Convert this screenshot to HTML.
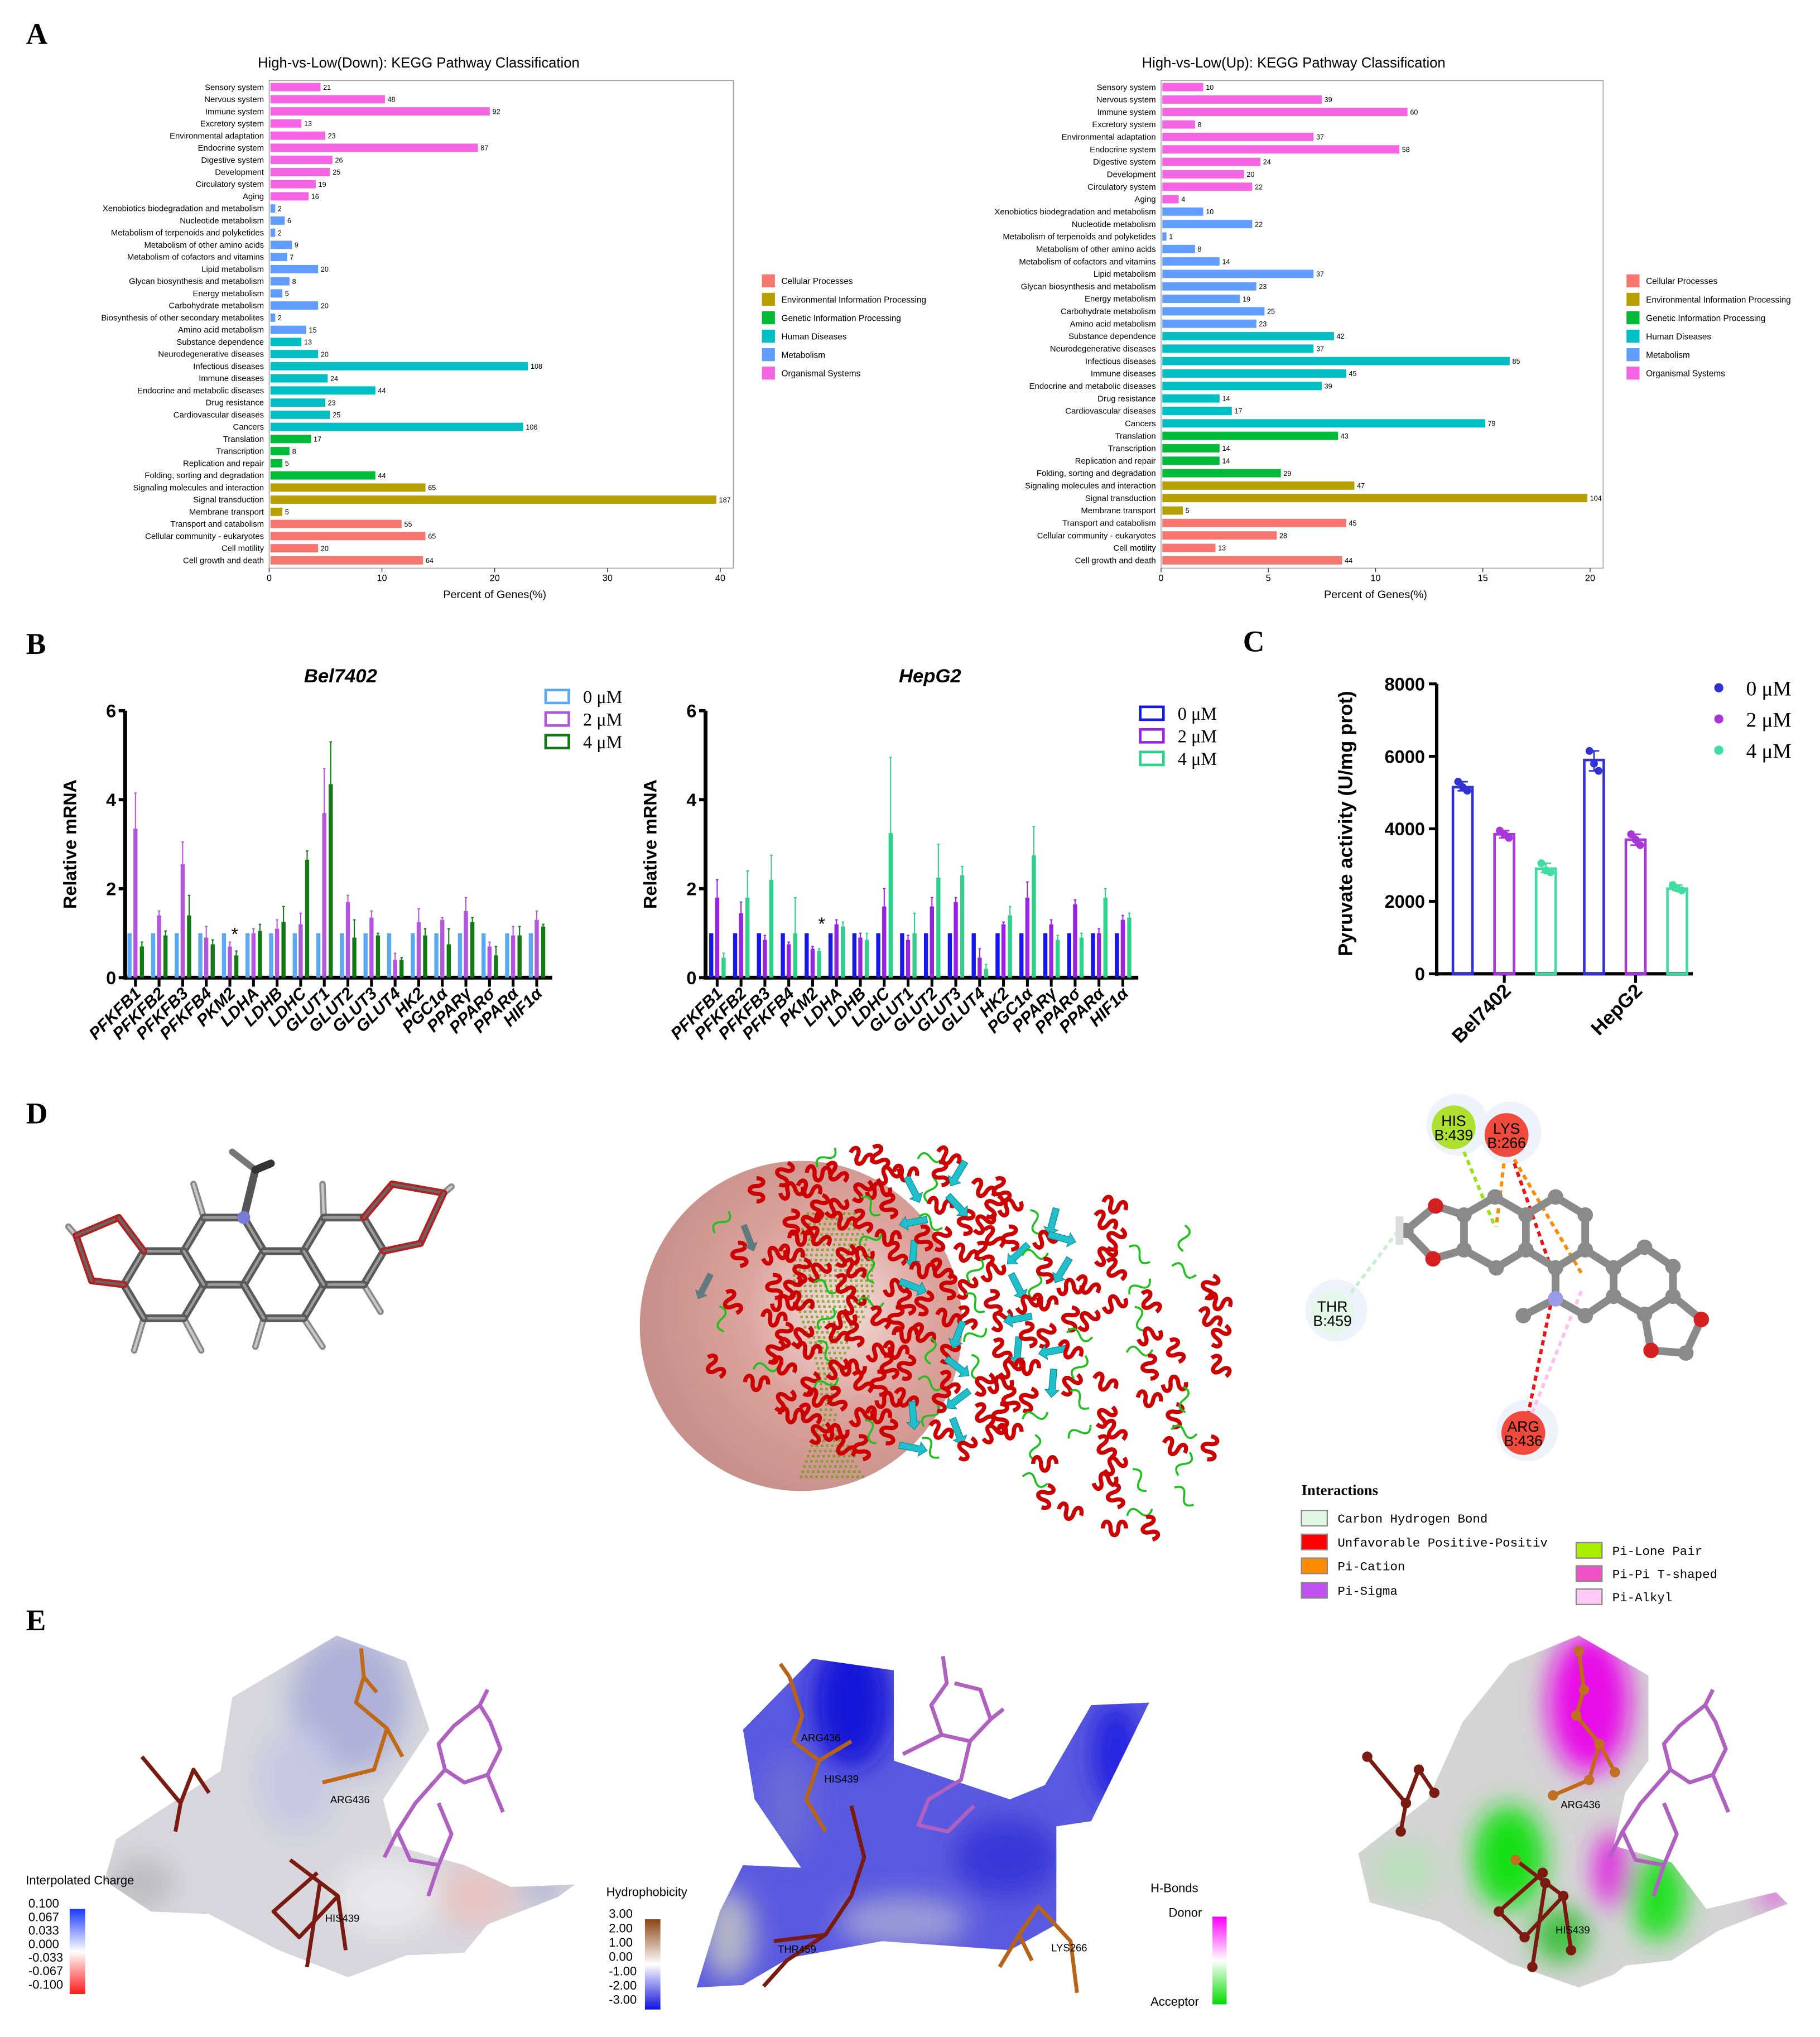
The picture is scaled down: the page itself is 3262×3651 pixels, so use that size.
<!DOCTYPE html>
<html><head><meta charset="utf-8"><style>
html,body{margin:0;padding:0;background:#fff}
svg{display:block}
text{font-family:"Liberation Sans",Arial,sans-serif}
.serif{font-family:"Liberation Serif",serif}
.mono{font-family:"Liberation Mono",monospace}
</style></head><body>
<svg id="fig" xmlns="http://www.w3.org/2000/svg" width="3262" height="3651" viewBox="0 0 1411 1579.3">
<rect width="1411" height="1580" fill="#fff"/>
<g transform="scale(1.008)">
<g class="serif" font-weight="bold" font-size="23">
<text x="20" y="34" class="serif">A</text>
<text x="20" y="503" class="serif">B</text>
<text x="956" y="501" class="serif">C</text>
<text x="20" y="864" class="serif">D</text>
<text x="20" y="1254" class="serif">E</text>
</g>
<g id="A"></g><g id="C"></g>
</g>
<g id="B"></g><g id="D"></g><g id="E"></g>
</svg>
<script>
// ---------- Panel A data ----------
const leftCats=["Sensory system","Nervous system","Immune system","Excretory system","Environmental adaptation","Endocrine system","Digestive system","Development","Circulatory system","Aging","Xenobiotics biodegradation and metabolism","Nucleotide metabolism","Metabolism of terpenoids and polyketides","Metabolism of other amino acids","Metabolism of cofactors and vitamins","Lipid metabolism","Glycan biosynthesis and metabolism","Energy metabolism","Carbohydrate metabolism","Biosynthesis of other secondary metabolites","Amino acid metabolism","Substance dependence","Neurodegenerative diseases","Infectious diseases","Immune diseases","Endocrine and metabolic diseases","Drug resistance","Cardiovascular diseases","Cancers","Translation","Transcription","Replication and repair","Folding, sorting and degradation","Signaling molecules and interaction","Signal transduction","Membrane transport","Transport and catabolism","Cellular community - eukaryotes","Cell motility","Cell growth and death"];
const leftCounts=[21,48,92,13,23,87,26,25,19,16,2,6,2,9,7,20,8,5,20,2,15,13,20,108,24,44,23,25,106,17,8,5,44,65,187,5,55,65,20,64];
const leftGroups="OOOOOOOOOOMMMMMMMMMMMHHHHHHHHGGGGEEECCCC";
const leftTotal=473;
const rightCats=["Sensory system","Nervous system","Immune system","Excretory system","Environmental adaptation","Endocrine system","Digestive system","Development","Circulatory system","Aging","Xenobiotics biodegradation and metabolism","Nucleotide metabolism","Metabolism of terpenoids and polyketides","Metabolism of other amino acids","Metabolism of cofactors and vitamins","Lipid metabolism","Glycan biosynthesis and metabolism","Energy metabolism","Carbohydrate metabolism","Amino acid metabolism","Substance dependence","Neurodegenerative diseases","Infectious diseases","Immune diseases","Endocrine and metabolic diseases","Drug resistance","Cardiovascular diseases","Cancers","Translation","Transcription","Replication and repair","Folding, sorting and degradation","Signaling molecules and interaction","Signal transduction","Membrane transport","Transport and catabolism","Cellular community - eukaryotes","Cell motility","Cell growth and death"];
const rightCounts=[10,39,60,8,37,58,24,20,22,4,10,22,1,8,14,37,23,19,25,23,42,37,85,45,39,14,17,79,43,14,14,29,47,104,5,45,28,13,44];
const rightGroups="OOOOOOOOOOMMMMMMMMMMHHHHHHHHGGGGEEECCCC";
const rightTotal=525;
const leftTicks=[0,10,20,30,40];
const rightTicks=[0,5,10,15,20];
const legendNames=["Cellular Processes","Environmental Information Processing","Genetic Information Processing","Human Diseases","Metabolism","Organismal Systems"];
const legendKeys=["C","E","G","H","M","O"];
const groupColor={C:"#f8766d",E:"#b79f00",G:"#00ba38",H:"#00bfc4",M:"#619cff",O:"#f564e3"};

// ---------- Panel B data ----------
const genes=["PFKFB1","PFKFB2","PFKFB3","PFKFB4","PKM2","LDHA","LDHB","LDHC","GLUT1","GLUT2","GLUT3","GLUT4","HK2","PGC1α","PPARγ","PPARσ","PPARα","HIF1α"];
const bel0=[1,1,1,1,1,1,1,1,1,1,1,1,1,1,1,1,1,1];
const bel2=[3.35,1.4,2.55,0.9,0.7,1.0,1.1,1.2,3.7,1.7,1.35,0.4,1.25,1.3,1.5,0.7,0.95,1.3];
const bel4=[0.7,0.95,1.4,0.75,0.5,1.05,1.25,2.65,4.35,0.9,0.95,0.4,0.95,0.75,1.25,0.5,0.95,1.15];
const bel2Err=[0.8,0.1,0.5,0.25,0.1,0.1,0.2,0.25,1.0,0.15,0.15,0.15,0.3,0.05,0.3,0.1,0.2,0.2];
const bel4Err=[0.1,0.1,0.45,0.1,0.1,0.15,0.35,0.2,0.95,0.4,0.05,0.05,0.15,0.35,0.1,0.2,0.2,0.05];
const hep0=[1,1,1,1,1,1,1,1,1,1,1,1,1,1,1,1,1,1];
const hep2=[1.8,1.45,0.85,0.75,0.65,1.2,0.9,1.6,0.85,1.6,1.7,0.45,1.2,1.8,1.2,1.65,1.0,1.3];
const hep4=[0.45,1.8,2.2,1.0,0.6,1.15,0.85,3.25,1.0,2.25,2.3,0.2,1.4,2.75,0.85,0.9,1.8,1.35];
const hep2Err=[0.4,0.25,0.1,0.05,0.05,0.1,0.1,0.4,0.1,0.2,0.1,0.2,0.05,0.35,0.1,0.1,0.1,0.1];
const hep4Err=[0.1,0.6,0.55,0.8,0.05,0.1,0.15,1.7,0.45,0.75,0.2,0.1,0.2,0.65,0.1,0.1,0.2,0.1];
const mrnaTicks=[0,2,4,6];

// ---------- Panel C data ----------
const cells=["Bel7402","HepG2"];
const pyr0=[5150,5900];
const pyr2=[3850,3700];
const pyr4=[2900,2350];
const pyr0Pts=[[5300,5150,5050],[6150,5800,5600]];
const pyr2Pts=[[3950,3850,3750],[3850,3700,3550]];
const pyr4Pts=[[3050,2850,2800],[2450,2350,2300]];
const pyrTicks=[0,2000,4000,6000,8000];

const NS="http://www.w3.org/2000/svg";
function mk(parent,tag,attrs,txt){const e=document.createElementNS(NS,tag);for(const k in attrs)e.setAttribute(k,attrs[k]);if(txt!==undefined)e.textContent=txt;parent.appendChild(e);return e;}

// ---------- Panel A ----------
function kegg(g,cats,counts,groups,total,ticks,x0,x1,xmax,title,titleX,legendX,prefix){
  const yTop=62,yBot=437,r0=67,r1=431;
  const step=(r1-r0)/(cats.length-1);
  const sx=v=>x0+v*(x1-x0)/xmax;
  const t=mk(g,"text",{x:titleX,y:52,"font-size":11,"text-anchor":"middle"},title);
  
  
  const frame=mk(g,"rect",{x:x0,y:yTop,width:(x1-x0)+10,height:yBot-yTop,fill:"none",stroke:"#999","stroke-width":0.6});
  
  
  cats.forEach((c,i)=>{
    const y=r0+i*step;
    const pct=counts[i]*100/total;
    const lb=mk(g,"text",{x:x0-4,y:y+2.2,"font-size":6.4,"text-anchor":"end"},c);
    
    
    const b=mk(g,"rect",{x:x0+1,y:y-3.2,width:Math.max(0.5,sx(pct)-x0),height:6.4,fill:groupColor[groups[i]]});
    
    
    const vl=mk(g,"text",{x:sx(pct)+3,y:y+2,"font-size":5.4},counts[i]);
    
    
  });
  ticks.forEach(v=>{
    mk(g,"line",{x1:sx(v),x2:sx(v),y1:yBot,y2:yBot+3,stroke:"#333","stroke-width":0.6});
    const tl=mk(g,"text",{x:sx(v),y:yBot+10,"font-size":7,"text-anchor":"middle"},v);
    
    
  });
  const xl=mk(g,"text",{x:(x0+x1)/2,y:460,"font-size":8.5,"text-anchor":"middle"},"Percent of Genes(%)");
  
  
  legendNames.forEach((n,i)=>{
    const y=216+i*14.2;
    const sw=mk(g,"rect",{x:legendX,y:y-5,width:10,height:10,fill:groupColor[legendKeys[i]]});
    
    
    const lt=mk(g,"text",{x:legendX+15,y:y+2.5,"font-size":6.6},n);
    
    
  });
}
const gA=document.getElementById("A");
kegg(gA,leftCats,leftCounts,leftGroups,leftTotal,leftTicks,207,554,40,"High-vs-Low(Down): KEGG Pathway Classification",322,586,"kegg-down");
kegg(gA,rightCats,rightCounts,rightGroups,rightTotal,rightTicks,893,1223,20,"High-vs-Low(Up): KEGG Pathway Classification",995,1251,"kegg-up");

// ---------- Panel B ----------
function mrna(g,prefix,title,titleX,axX,g0,gStep,cols,series,errs,legX,legY){
  const y0=758,sc=34.5,sy=v=>y0-v*sc;
  const xEnd=g0+gStep*17+12;
  const tt=mk(g,"text",{x:titleX,y:529,"font-size":15,"font-weight":"bold","font-style":"italic","text-anchor":"middle"},title);
  
  
  mk(g,"line",{x1:axX,x2:axX,y1:sy(6),y2:y0+1.5,stroke:"#000","stroke-width":3});
  mk(g,"line",{x1:axX,x2:xEnd,y1:y0,y2:y0,stroke:"#000","stroke-width":3});
  mrnaTicks.forEach(v=>{
    mk(g,"line",{x1:axX-5,x2:axX,y1:sy(v),y2:sy(v),stroke:"#000","stroke-width":2.5});
    const tl=mk(g,"text",{x:axX-7,y:sy(v)+5,"font-size":14,"font-weight":"bold","text-anchor":"end"},v);
    
    
  });
  const yl=mk(g,"text",{x:0,y:0,"font-size":14,"font-weight":"bold","text-anchor":"middle",transform:`translate(${axX-38},${sy(3)}) rotate(-90)`},"Relative mRNA");
  
  
  const offs=[-4.6,0,5];
  genes.forEach((gn,i)=>{
    const cx=g0+i*gStep;
    mk(g,"line",{x1:cx,x2:cx,y1:y0,y2:y0+7,stroke:"#000","stroke-width":2.2});
    const lb=mk(g,"text",{x:0,y:0,"font-size":13,"font-weight":"bold","font-style":"italic","text-anchor":"end",transform:`translate(${cx+5},${y0+13}) rotate(-45)`},gn);
    
    
    series.forEach((s,k)=>{
      const bx=cx+offs[k];
      const b=mk(g,"rect",{x:bx-1.6,y:sy(s[i]),width:3.2,height:y0-sy(s[i]),fill:cols[k]});
      
      
      if(errs[k]){
        const top=sy(s[i]+errs[k][i]);
        mk(g,"line",{x1:bx,x2:bx,y1:sy(s[i]),y2:top,stroke:cols[k],"stroke-width":0.9});
        mk(g,"line",{x1:bx-1,x2:bx+1,y1:top,y2:top,stroke:cols[k],"stroke-width":0.9});
      }
    });
  });
  ["0 μM","2 μM","4 μM"].forEach((n,k)=>{
    const y=legY+k*17.5;
    const sw=mk(g,"rect",{x:legX,y:y-5,width:18,height:10,fill:"none",stroke:cols[k],"stroke-width":2});
    
    
    const lt=mk(g,"text",{x:legX+29,y:y+5,"font-size":14,class:"serif"},n);
    
    
  });
}
const gB=document.getElementById("B");
mrna(gB,"bel7402","Bel7402",264,97,105,18.3,["#5aa9f5","#b455e0","#127a12"],[bel0,bel2,bel4],[null,bel2Err,bel4Err],423,540);
mrna(gB,"hepg2","HepG2",721,547,556,18.5,["#1616ee","#9a22e6","#2fd089"],[hep0,hep2,hep4],[null,hep2Err,hep4Err],884,553);
const ast1=mk(gB,"text",{x:182,y:729,"font-size":14,"text-anchor":"middle"},"*");


const ast2=mk(gB,"text",{x:637,y:721,"font-size":14,"text-anchor":"middle"},"*");



// ---------- Panel C ----------
(function(){
  const g=document.getElementById("C");
  const axX=1105,y0=749,sy=v=>y0-v*(223/8000);
  const cols=["#3131d6","#a936d8","#3fdda2"];
  mk(g,"line",{x1:axX,x2:axX,y1:sy(8000),y2:y0+1.5,stroke:"#000","stroke-width":2.6});
  mk(g,"line",{x1:axX,x2:1302,y1:y0,y2:y0,stroke:"#000","stroke-width":2.6});
  pyrTicks.forEach(v=>{
    mk(g,"line",{x1:axX-6,x2:axX,y1:sy(v),y2:sy(v),stroke:"#000","stroke-width":2.2});
    const tl=mk(g,"text",{x:axX-9,y:sy(v)+5,"font-size":14,"font-weight":"bold","text-anchor":"end"},v);
    
    
  });
  const yl=mk(g,"text",{x:0,y:0,"font-size":15,"font-weight":"bold","text-anchor":"middle",transform:`translate(1040,${sy(4000)-4}) rotate(-90)`},"Pyruvate activity (U/mg prot)");
  
  
  const centers=[1157,1258],offs=[-32,0,32];
  const series=[pyr0,pyr2,pyr4],pts=[pyr0Pts,pyr2Pts,pyr4Pts];
  cells.forEach((c,i)=>{
    const cx=centers[i];
    mk(g,"line",{x1:cx,x2:cx,y1:y0,y2:y0+7,stroke:"#000","stroke-width":2.2});
    const lb=mk(g,"text",{x:0,y:0,"font-size":15,"font-weight":"bold","text-anchor":"end",transform:`translate(${cx+6},${y0+14}) rotate(-45)`},c);
    
    
    series.forEach((s,k)=>{
      const bx=cx+offs[k];
      const b=mk(g,"rect",{x:bx-7.5,y:sy(s[i]),width:15,height:y0-sy(s[i]),fill:"none",stroke:cols[k],"stroke-width":2});
      
      
      const p=pts[k][i];
      const mx=Math.max(...p),mn=Math.min(...p);
      mk(g,"line",{x1:bx,x2:bx,y1:sy(mx),y2:sy(mn),stroke:cols[k],"stroke-width":1.2});
      mk(g,"line",{x1:bx-4,x2:bx+4,y1:sy(mx),y2:sy(mx),stroke:cols[k],"stroke-width":1.2});
      mk(g,"line",{x1:bx-4,x2:bx+4,y1:sy(mn),y2:sy(mn),stroke:cols[k],"stroke-width":1.2});
      p.forEach((v,j)=>{
        const d=mk(g,"circle",{cx:bx+(j-1)*3.5,cy:sy(v),r:3,fill:cols[k]});
        
        
      });
    });
  });
  ["0 μM","2 μM","4 μM"].forEach((n,k)=>{
    const y=529+k*24;
    const dd=mk(g,"circle",{cx:1322,cy:y,r:3.5,fill:cols[k]});
    
    
    const lt=mk(g,"text",{x:1343,y:y+6,"font-size":16,class:"serif"},n);
    
    
  });
})();

// ---------- Panel D ----------
(function(){
  const g=document.getElementById("D");
  function bond(par,a,b,col,w){mk(par,"line",{x1:a[0],y1:a[1],x2:b[0],y2:b[1],stroke:col||"#666","stroke-width":w||5.5,"stroke-linecap":"round"});}
  const mol=mk(g,"g",{});
  
  
  function hexv(cx,cy){return [[cx-31,cy],[cx-15.5,cy-26],[cx+15.5,cy-26],[cx+31,cy],[cx+15.5,cy+26],[cx-15.5,cy+26]];}
  const rings=[[127,996],[173.5,970],[220,996],[266.5,970]];
  const H=[[[111.5,1022],[104,1047]],[[142.5,1022],[156,1047]],[[204.5,1022],[198,1044]],[[235.5,1022],[250,1044]],[[282,996],[295,1017]],[[158,944],[150,918]],[[251,944],[250,918]],[[59,958],[53,951]],[[344,925],[350,920]]];
  H.forEach(h=>{bond(mol,h[0],h[1],"#888",5);bond(mol,h[0],h[1],"#c8c8c8",2);});
  rings.forEach(c=>{const v=hexv(c[0],c[1]);for(let i=0;i<6;i++){bond(mol,v[i],v[(i+1)%6],"#5a5a5a",6);bond(mol,v[i],v[(i+1)%6],"#9a9a9a",2);}});
  [[[96,996],[71,993]],[[71,993],[59,958]],[[59,958],[92,944]],[[92,944],[111.5,970]]].forEach(b=>{bond(mol,b[0],b[1],"#b52020",5.5);bond(mol,b[0],b[1],"#666",2);});
  [[[282,944],[304,918]],[[304,918],[344,925]],[[344,925],[326,964]],[[326,964],[297.5,970]]].forEach(b=>{bond(mol,b[0],b[1],"#b52020",5.5);bond(mol,b[0],b[1],"#666",2);});
  bond(mol,[189,944],[198,907],"#555",6);bond(mol,[198,907],[180,893],"#777",5);bond(mol,[198,907],[210,902],"#333",6);
  mk(mol,"circle",{cx:189,cy:944,r:5,fill:"#7a7ad8"});

  // protein ribbon
  const pr=mk(g,"g",{});
  
  
  const rg=mk(pr,"defs",{});
  const rad=mk(rg,"radialGradient",{id:"sph",cx:"0.62",cy:"0.45",r:"0.6"});
  mk(rad,"stop",{offset:"0","stop-color":"#f4e0dc"});mk(rad,"stop",{offset:"0.5","stop-color":"#dca29c"});mk(rad,"stop",{offset:"1","stop-color":"#c8908a"});
  mk(pr,"ellipse",{cx:621,cy:1028,rx:125,ry:128,fill:"url(#sph)"});
  const gd=mk(pr,"g",{fill:"#6a9a10",opacity:0.7});
  for(let y=940;y<1148;y+=4){const w=22+16*Math.sin((y-940)/30);for(let x=640-w/1.5;x<640+w;x+=4)mk(gd,"rect",{x:x,y:y,width:2,height:2});}
  for(let i=0;i<32;i++){for(let j=0;j<26;j++){
    const x=540+i*13.5+((j%2)*6), y=885+j*12.5;
    const inA=((x-690)/160)**2+((y-1010)/122)**2<1;
    const inB=((x-865)/90)**2+((y-1065)/135)**2<1;
    if(!(inA||inB)) continue;
    if((i*5+j*3)%7<3) continue;
    if(!inA && (i+j)%2) continue;
    if(x<600 && (i+j)%3) continue;
    const k=(i*7+j*3)%6, a=(i*37+j*53)%180;
    if(k===3 && x>700 || k===5 && x>790){
      mk(pr,"path",{d:"M-11 -2.5 L5 -2.5 L5 -5.5 L11 0 L5 5.5 L5 2.5 L-11 2.5Z",fill:"#1fc0cc",stroke:"#108890","stroke-width":0.5,transform:`translate(${x},${y}) rotate(${a})`});
    } else if(k===4){
      mk(pr,"path",{d:"M-10 0 q5 -8 10 0 t10 0",fill:"none",stroke:(i+j)%2?"#b8b8b8":"#20c020","stroke-width":1.6,transform:`translate(${x},${y}) rotate(${a})`});
    } else if(x<600 && k===3){
      mk(pr,"path",{d:"M-11 -2.5 L5 -2.5 L5 -5.5 L11 0 L5 5.5 L5 2.5 L-11 2.5Z",fill:"#607a80",transform:`translate(${x},${y}) rotate(${a})`});
    } else {
      mk(pr,"path",{d:"M-9 0 c0 -7 6 -7 6 0 c0 7 6 7 6 0 c0 -7 6 -7 6 0",fill:"none",stroke:"#cc0000","stroke-width":3.2,transform:`translate(${x},${y}) rotate(${a})`});
    }
  }}

  // interaction diagram
  const it=mk(g,"g",{});
  
  
  const res=[["HIS","B:439",1127,874,"#aee030"],["LYS","B:266",1168,880,"#f04a3c"],["THR","B:459",1033,1018,"#e4f7e8"],["ARG","B:436",1181,1111,"#f04a3c"]];
  res.forEach(r=>mk(it,"circle",{cx:r[2]+3,cy:r[3]-2,r:24,fill:"#eef3fb"}));
  const dl=[[[1135,893],[1159,951],"#99e020"],[[1166,902],[1160,951],"#ff8c00"],[[1174,899],[1226,987],"#ff8c00"],[[1174,902],[1205,990],"#ee1111"],[[1205,998],[1185,1095],"#ee1111"],[[1226,1001],[1188,1095],"#ffc0f0"],[[1088,949],[1046,1004],"#c8f0d0"]];
  dl.forEach(d=>mk(it,"line",{x1:d[0][0],y1:d[0][1],x2:d[1][0],y2:d[1][1],stroke:d[2],"stroke-width":2.6,"stroke-dasharray":"4,3"}));
  const A={o1:[1113,935],o2:[1111,976],c0:[1090,954],a1:[1135,942],a2:[1159,928],a3:[1183,942],a4:[1183,969],a5:[1160,983],a6:[1135,969],b2:[1206,928],b3:[1229,942],b4:[1229,969],b5:[1206,983],c3:[1251,983],c4:[1251,1005],c5:[1229,1020],n:[1206,1007],me:[1181,1020],d2:[1275,967],d3:[1297,982],d4:[1297,1005],d5:[1275,1019],o3:[1319,1023],o4:[1280,1047],c6:[1307,1049]};
  const B=[["o1","c0"],["c0","o2"],["o1","a1"],["o2","a6"],["a1","a2"],["a2","a3"],["a3","a4"],["a4","a5"],["a5","a6"],["a6","a1"],["a3","b2"],["b2","b3"],["b3","b4"],["b4","b5"],["b5","a4"],["b5","n"],["b4","c3"],["c3","c4"],["c4","c5"],["c5","n"],["n","me"],["c3","d2"],["d2","d3"],["d3","d4"],["d4","d5"],["d5","c4"],["d4","o3"],["o3","c6"],["c6","o4"],["o4","d5"]];
  B.forEach(b=>bond(it,A[b[0]],A[b[1]],"#8a8a8a",6));
  for(const k in A){const col=k[0]==="o"?"#d42020":(k==="n"?"#9a9ae8":"#8a8a8a");mk(it,"circle",{cx:A[k][0],cy:A[k][1],r:6,fill:col});}
  mk(it,"rect",{x:1082,y:943,width:6,height:22,fill:"#ddd"});
  res.forEach(r=>{
    const c=mk(it,"circle",{cx:r[2],cy:r[3],r:17,fill:r[4]});
    
    
    mk(it,"text",{x:r[2],y:r[3]-1,"font-size":11.5,"text-anchor":"middle"},r[0]);
    mk(it,"text",{x:r[2],y:r[3]+10,"font-size":11.5,"text-anchor":"middle"},r[1]);
  });
  const lt=mk(g,"text",{x:1009,y:1159,"font-size":11.5,"font-weight":"bold",class:"serif"},"Interactions");
  
  
  const items=[["Carbon Hydrogen Bond","#dff7e4",1009,1177],["Unfavorable Positive-Positiv","#ff0000",1009,1195.5],["Pi-Cation","#ff8c00",1009,1214],["Pi-Sigma","#c050f0",1009,1233],["Pi-Lone Pair","#aaee00",1222,1202],["Pi-Pi T-shaped","#f050c8",1222,1220],["Pi-Alkyl","#ffcaf5",1222,1238]];
  items.forEach(m=>{
    const s=mk(g,"rect",{x:m[2],y:m[3]-6,width:20,height:12,fill:m[1],stroke:"#888","stroke-width":1});
    
    
    const t=mk(g,"text",{x:m[2]+28,y:m[3]+3.5,"font-size":9.7,class:"mono"},m[0]);
    
    
  });
})();

// ---------- Panel E ----------
(function(){
  const g=document.getElementById("E");
  const defs=mk(g,"defs",{});
  function lg(id,stops){const l=mk(defs,"linearGradient",{id:id,x1:0,y1:0,x2:0,y2:1});stops.forEach(s=>mk(l,"stop",{offset:s[0],"stop-color":s[1]}));}
  lg("gCharge",[["0","#1a3aff"],["0.5","#ffffff"],["1","#ff1a1a"]]);
  lg("gHyd",[["0","#8b4513"],["0.5","#ffffff"],["1","#1010dd"]]);
  lg("gHb",[["0","#ff00ff"],["0.5","#ffffff"],["1","#00dd00"]]);
  const f=mk(defs,"filter",{id:"blur",x:"-50%",y:"-50%",width:"200%",height:"200%"});
  mk(f,"feGaussianBlur",{stdDeviation:10});
  const shapes=[
   {name:"charge-surface",base:"#d6d6dc",pts:[[261,1268],[315,1288],[333,1341],[297,1395],[306,1431],[360,1446],[396,1463],[446,1461],[432,1471],[378,1492],[360,1514],[315,1516],[270,1533],[216,1512],[162,1484],[117,1482],[81,1458],[90,1426],[171,1373],[180,1316]],
    blobs:[[270,1320,45,55,"#aeb0d8"],[230,1380,30,40,"#c8c8e4"],[370,1470,30,25,"#e6c4c4"],[300,1470,40,30,"#e8e8ea"],[110,1460,25,20,"#bdbdc0"],[420,1465,18,8,"#a8a8d0"]]},
   {name:"hydrophobicity-surface",base:"#5a5ae0",pts:[[630,1286],[693,1295],[693,1365],[783,1395],[810,1384],[846,1322],[891,1320],[846,1412],[819,1416],[819,1492],[783,1512],[684,1505],[612,1518],[576,1539],[540,1541],[558,1482],[576,1446],[621,1448],[585,1395],[576,1341]],
    blobs:[[660,1320,30,50,"#1515d8"],[865,1360,18,40,"#2020e0"],[780,1440,40,30,"#3838d8"],[700,1490,50,20,"#9a9ad8"],[565,1500,20,35,"#b4b4c8"],[610,1400,20,40,"#6a6ad8"]]},
   {name:"hbond-surface",base:"#d4d4d4",pts:[[1224,1268],[1278,1299],[1278,1365],[1260,1390],[1251,1431],[1296,1444],[1323,1480],[1377,1467],[1386,1476],[1332,1497],[1296,1520],[1260,1524],[1251,1531],[1224,1541],[1170,1522],[1116,1490],[1062,1475],[1053,1437],[1107,1395],[1134,1335],[1170,1290]],
    blobs:[[1232,1320,32,55,"#e810e8"],[1250,1450,14,30,"#e020e0"],[1170,1440,28,40,"#18e018"],[1285,1470,22,35,"#20e020"],[1210,1500,22,22,"#40c040"],[1375,1470,10,8,"#e020e0"],[1090,1450,25,20,"#b8e0b8"]]}
  ];
  shapes.forEach((s,si)=>{
    const cp=mk(defs,"clipPath",{id:"cp"+si});
    const d="M"+s.pts.map(p=>p.join(" ")).join(" L")+" Z";
    mk(cp,"path",{d:d});
    const grp=mk(g,"g",{"clip-path":`url(#cp${si})`});
    
    
    mk(grp,"path",{d:d,fill:s.base});
    const bg=mk(grp,"g",{filter:"url(#blur)"});
    s.blobs.forEach(b=>mk(bg,"ellipse",{cx:b[0],cy:b[1],rx:b[2],ry:b[3],fill:b[4]}));
  });
  function lig(dx,balls,purple,orange,dred){
    const lgp=mk(g,"g",{transform:`translate(${dx},0)`,fill:"none","stroke-width":3,"stroke-linejoin":"round"});
    
    
    mk(lgp,"path",{d:purple,stroke:"#b060c0"});
    mk(lgp,"path",{d:orange,stroke:"#c06a18"});
    mk(lgp,"path",{d:dred,stroke:"#7a1a10"});
    if(balls){
      (orange+" "+dred).match(/-?\d+(\.\d+)?\s-?\d+(\.\d+)?/g).forEach((p,i)=>{const q=p.split(/\s/);mk(lgp,"circle",{cx:q[0],cy:q[1],r:4,fill:i<9?"#c07020":"#7a1a10"});});
    }
  }
  const purp="M372 1322 L380 1335 L388 1356 L378 1376 L360 1382 L345 1372 L340 1352 L352 1338 Z M345 1372 L322 1398 L308 1420 L318 1442 L340 1446 L350 1422 L340 1398 M308 1420 L298 1440 M340 1446 L332 1470 M378 1376 L390 1405 M372 1322 L378 1310";
  const orng="M280 1278 L282 1300 L276 1320 L300 1340 L290 1372 L250 1382 M300 1340 L312 1362 M282 1300 L292 1312";
  const drd="M225 1442 L262 1470 L268 1512 M246 1452 L212 1482 L232 1502 L262 1470 M248 1460 L238 1525 M110 1362 L140 1398 L150 1372 L162 1390 M140 1398 L136 1420";
  lig(0,false,purp,orng,drd);
  lig(950,true,purp,"M274 1280 L278 1310 L272 1330 L290 1352 L282 1380 L254 1392 M290 1352 L302 1374",drd);
  const mid=mk(g,"g",{fill:"none","stroke-width":3,"stroke-linejoin":"round"});
  
  
  mk(mid,"path",{d:"M731 1284 L734 1305 L722 1322 L730 1345 L752 1350 L768 1333 L760 1310 L740 1305 M752 1350 L745 1380 L720 1395 L712 1415 L735 1420 L755 1400 M730 1345 L700 1360 M768 1333 L778 1325",stroke:"#b060c0"});
  mk(mid,"path",{d:"M612 1300 L622 1330 L615 1350 L635 1365 L625 1395 L640 1420 M635 1365 L660 1350 M612 1300 L605 1290 M800 1520 L790 1500 L805 1478 L830 1505 L835 1545 M790 1500 L775 1525",stroke:"#b86418"});
  mk(mid,"path",{d:"M660 1400 L670 1440 L660 1470 L640 1500 L610 1520 L592 1540 M640 1500 L600 1505",stroke:"#7a1a10"});
  const txts=[["ARG436",256,1398],["HIS439",252,1490],["ARG436",621,1350],["HIS439",639,1382],["THR459",603,1514],["LYS266",815,1513],["ARG436",1210,1402],["HIS439",1206,1499]];
  txts.forEach(t=>{const e=mk(g,"text",{x:t[1],y:t[2],"font-size":8},t[0]);});
  const bars=[["Interpolated Charge",20,1461,"gCharge",54,1480,66,["0.100","0.067","0.033","0.000","-0.033","-0.067","-0.100"],22,"charge-colorbar"],
              ["Hydrophobicity",470,1470,"gHyd",500,1488,70,["3.00","2.00","1.00","0.00","-1.00","-2.00","-3.00"],472,"hydrophobicity-colorbar"]];
  bars.forEach(b=>{
    const tt=mk(g,"text",{x:b[1],y:b[2],"font-size":9.5},b[0]);
    
    
    const r=mk(g,"rect",{x:b[4],y:b[5],width:12,height:b[6],fill:`url(#${b[3]})`});
    
    
    b[7].forEach((v,i)=>{const e=mk(g,"text",{x:b[8],y:b[5]-1+i*b[6]/6.3,"font-size":9.5},v);});
  });
  const h=mk(g,"text",{x:892,y:1467,"font-size":9.5},"H-Bonds");
  const d=mk(g,"text",{x:906,y:1486,"font-size":9.5},"Donor");
  const a=mk(g,"text",{x:892,y:1555,"font-size":9.5},"Acceptor");
  const hb=mk(g,"rect",{x:940,y:1486,width:11,height:68,fill:"url(#gHb)"});
})();
</script>
</body></html>
